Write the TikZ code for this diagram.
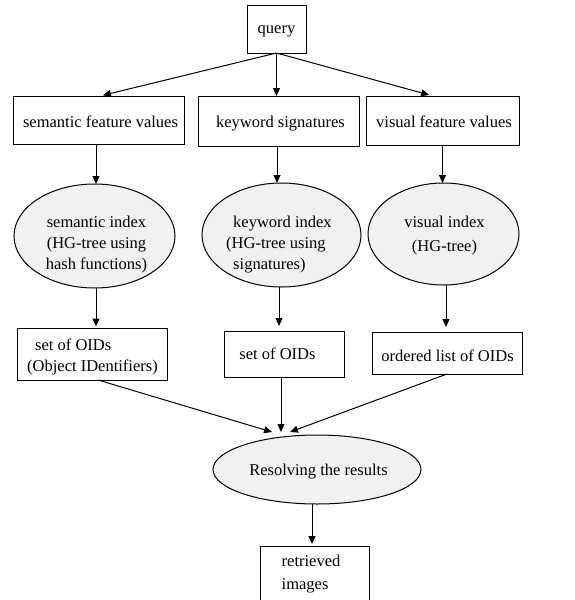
\documentclass[tikz,border=0pt]{standalone}
\usepackage{fontspec}
\setmainfont{Liberation Serif}
\usetikzlibrary{arrows.meta,shapes.geometric,calc}
\definecolor{ovalgray}{RGB}{241,241,241}
% #1 column spec, #2 horizontal shift, #3 downward shift, #4 lines
\newcommand\nodetext[4][c]{\raisebox{\dimexpr-4.1pt-(#3)\relax}[0pt][0pt]{\makebox[0pt]{\hspace*{#2}\hspace*{#2}\begin{tabular}{@{}#1@{}}#4\end{tabular}}}}
\begin{document}
\begin{tikzpicture}[x=1pt,y=-1pt,
  every node/.style={font=\fontsize{16.5}{21}\selectfont, inner sep=0pt, outer sep=0pt},
  box/.style={draw, line width=1pt, rectangle},
  oval/.style={draw, line width=1pt, ellipse, fill=ovalgray},
  arr/.style={line width=1pt, -{Triangle[length=8pt,width=7pt]}}]
\useasboundingbox (0,0) rectangle (574,600);
\clip (0,0) rectangle (574,600);

% boxes, row 1
\node[box,minimum width=59pt,minimum height=48pt] (query) at (276.5,29) {\nodetext{0pt}{0.3pt}{query}};
\node[box,minimum width=171pt,minimum height=48pt] (sem) at (98.5,120) {\nodetext{2pt}{3.6pt}{semantic feature values}};
\node[box,minimum width=161pt,minimum height=50pt] (key) at (278.5,121) {\nodetext{2pt}{2.8pt}{keyword signatures}};
\node[box,minimum width=153pt,minimum height=49pt] (vis) at (442.5,120.5) {\nodetext{1.5pt}{3.3pt}{visual feature values}};

% index ellipses
\node[oval,minimum width=161pt,minimum height=104pt] (semi) at (94.5,236) {\nodetext{2pt}{8.8pt}{semantic index\\(HG-tree using\\hash functions)}};
\node[oval,minimum width=159pt,minimum height=104pt] (keyi) at (281.5,235) {\nodetext[l]{-2.5pt}{9.8pt}{\hspace*{7pt}keyword index\\(HG-tree using\\\hspace*{7pt}signatures)}};
\node[oval,minimum width=151pt,minimum height=102pt] (visi) at (443.5,234) {\nodetext{1pt}{1.8pt}{visual index\\[3pt](HG-tree)}};

% OID boxes
\node[box,minimum width=150pt,minimum height=52pt] (oid1) at (92,354) {\nodetext[l]{0.5pt}{3.3pt}{\hspace*{8pt}set of OIDs\\(Object IDentifiers)}};
\node[box,minimum width=120pt,minimum height=46pt] (oid2) at (284,354) {\nodetext{-6.5pt}{1.8pt}{set of OIDs}};
\node[box,minimum width=150pt,minimum height=42pt] (oid3) at (447,353) {\nodetext{0.5pt}{4.5pt}{ordered list of OIDs}};

% resolving and result
\node[oval,minimum width=208pt,minimum height=69pt] (res) at (317,469.5) {\nodetext{1.5pt}{2.3pt}{Resolving the results}};
\node[box,minimum width=109pt,minimum height=58pt] (ret) at (314.5,575) {\nodetext[l]{-3.5pt}{-1pt}{retrieved\\[2pt]images}};

% connectors
\draw[arr,shorten >=3pt] (query.south) -- ([xshift=1.5pt]sem.north);
\draw[arr] (query.south) -- (query.south |- key.north);
\draw[arr,shorten >=4pt] (query.south) -- ([xshift=-9.5pt]vis.north);

\draw[arr] ([xshift=1.5pt]semi.north |- sem.south) -- ([xshift=1.5pt]semi.north);
\draw[arr] ([xshift=-1.5pt]key.south) -- ([xshift=-1.5pt]key.south |- keyi.north);
\draw[arr] (vis.south) -- (vis.south |- visi.north);

\draw[arr,shorten >=1.5pt] ([xshift=1.5pt]semi.south) -- ([xshift=1.5pt]semi.south |- oid1.north);
\draw[arr,shorten >=5pt] ([xshift=-2.5pt]keyi.south) -- ([xshift=-2.5pt]keyi.south |- oid2.north);
\draw[arr,shorten >=5pt] ([xshift=2.5pt]visi.south) -- ([xshift=2.5pt]visi.south |- oid3.north);

\draw[arr] ([xshift=6pt]oid1.south) -- ([xshift=-45pt,yshift=3pt]res.north);
\draw[arr] ([xshift=-3pt]oid2.south) -- ([xshift=-36pt,yshift=3pt]res.north);
\draw[arr] (oid3.south) -- ([xshift=-27pt,yshift=3pt]res.north);

\draw[arr,shorten >=2pt] ([xshift=-5pt]res.south) -- ([xshift=-5pt]res.south |- ret.north);
\end{tikzpicture}
\end{document}
